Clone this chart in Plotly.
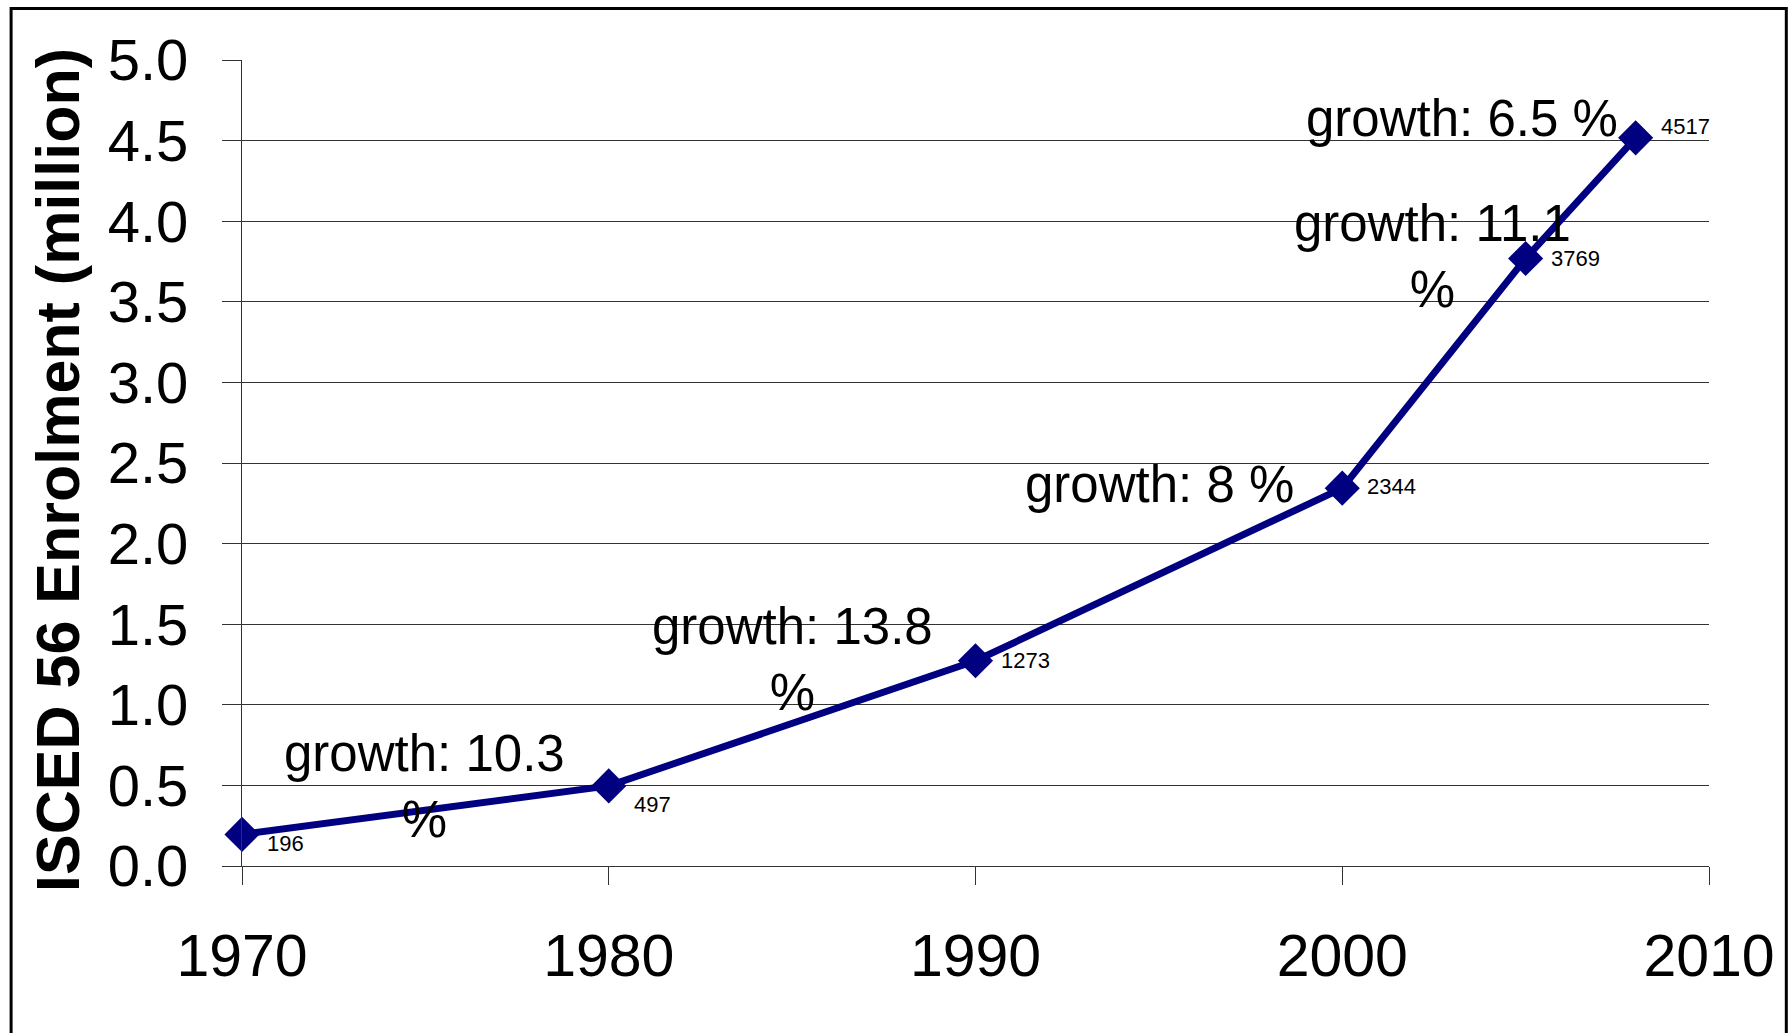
import plotly.graph_objects as go

# ---- data ----
years = [1970, 1980, 1990, 2000, 2005, 2008]
enrolment_thousands = [196, 497, 1273, 2344, 3769, 4517]
enrolment_million = [v / 1000 for v in enrolment_thousands]
growth_texts = ["growth: 10.3<br>%", "growth: 13.8<br>%", "growth: 8 %", "growth: 11.1<br>%", "growth: 6.5 %"]

# ---- layout tweaks (label placement) ----
value_label_yshift = [-9, -19, 0, 2, 0, 11]
growth_label_pos = [(1974.97, 0.495), (1985.0, 1.278), (1995.03, 2.364), (2002.45, 3.778), (2003.26, 4.638)]

FONT = "Liberation Sans, Arial, sans-serif"
NAVY = "#000080"
GRID = "#333333"

fig = go.Figure()
fig.add_trace(go.Scatter(
    x=years, y=enrolment_million, mode="lines+markers",
    line=dict(color=NAVY, width=7),
    marker=dict(symbol="diamond", size=27, color=NAVY),
    cliponaxis=False, showlegend=False, hoverinfo="x+y",
))

annotations = []
for yr, v, t, ys in zip(years, enrolment_million, enrolment_thousands, value_label_yshift):
    annotations.append(dict(x=yr, y=v, xref="x", yref="y", text=str(t), showarrow=False,
                            xanchor="left", yanchor="middle", xshift=23, yshift=ys,
                            font=dict(family=FONT, size=22, color="black")))
for (gx, gy), txt in zip(growth_label_pos, growth_texts):
    annotations.append(dict(x=gx, y=gy, xref="x", yref="y", text=txt, showarrow=False,
                            xanchor="center", yanchor="middle",
                            font=dict(family=FONT, size=51, color="black")))
annotations.append(dict(x=-0.125, y=0.491, xref="paper", yref="paper",
                        text="<b>ISCED 56 Enrolment (million)</b>", textangle=-90,
                        showarrow=False, xanchor="center", yanchor="middle",
                        font=dict(family=FONT, size=61, color="black")))

fig.update_layout(
    width=1792, height=1033,
    margin=dict(l=242, r=83, t=60, b=167),
    paper_bgcolor="white", plot_bgcolor="white",
    font=dict(family=FONT, color="black"),
    annotations=annotations,
    shapes=[dict(type="rect", xref="paper", yref="paper",
                 x0=-0.1574, x1=1.0527, y0=-0.25, y1=1.0640,
                 line=dict(color="black", width=3), fillcolor="rgba(0,0,0,0)", layer="below")],
    xaxis=dict(range=[1970, 2010], tickmode="linear", tick0=1970, dtick=10,
               showgrid=False, zeroline=False, showline=True, linecolor=GRID, linewidth=1,
               ticks="outside", ticklen=18, tickcolor=GRID, tickwidth=1,
               tickfont=dict(family=FONT, size=59, color="black"), ticklabelstandoff=20),
    yaxis=dict(range=[0, 5], tickmode="linear", tick0=0, dtick=0.5, tickformat=".1f",
               showgrid=True, gridcolor=GRID, gridwidth=1, zeroline=False,
               showline=True, linecolor=GRID, linewidth=1,
               ticks="outside", ticklen=19, tickcolor=GRID, tickwidth=1,
               tickfont=dict(family=FONT, size=58, color="black"), ticklabelstandoff=22),
)

fig.write_html("out.html", config={"displayModeBar": False},
               post_script="document.body.style.margin='0px';document.body.style.overflow='hidden';")
